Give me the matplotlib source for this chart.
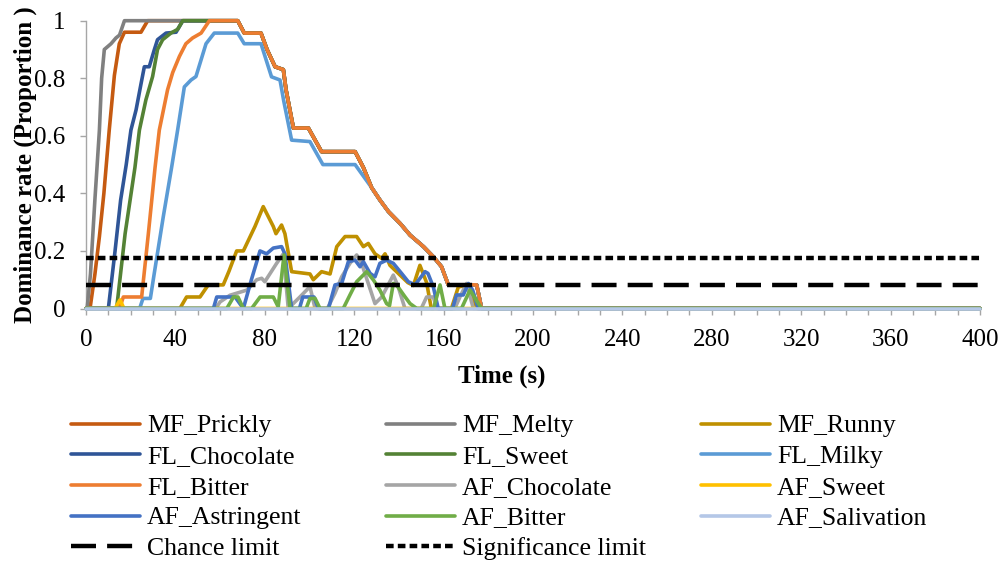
import numpy as np
import matplotlib.pyplot as plt
from matplotlib.ticker import MultipleLocator, FuncFormatter

plt.rcParams['font.family'] = ['Liberation Serif', 'DejaVu Serif']
plt.rcParams['lines.scale_dashes'] = False

# ---- data ----
TIME_RANGE = [0, 400]
CHANCE = 0.083
SIGNIF = 0.175

# common plateau/decline shared by the attributes that reach 1
decline_t = [67.9, 70.8, 78.3, 81, 84.6, 88.3, 89.5, 92.8, 99.5, 105.4, 120.4, 124.1,
             127.8, 131.5, 135.3, 140.5, 145, 151, 155.4, 159.1, 162.1, 174.8, 177, 400]
decline_v = [1.0, 0.957, 0.957, 0.9, 0.84, 0.83, 0.76, 0.627, 0.627, 0.545, 0.545, 0.49,
             0.42, 0.377, 0.337, 0.296, 0.255, 0.215, 0.18, 0.145, 0.082, 0.082, 0, 0]

prickly_t = [0, 1.8, 4, 6, 8, 10.4, 12.7, 14.9, 17.2, 24.6, 27.6]
prickly_v = [0, 0, 0.12, 0.25, 0.4, 0.62, 0.81, 0.92, 0.96, 0.96, 1.0]

melty_t = [0, 0.5, 2, 4, 6, 7, 8.2, 11.2, 13.4, 15, 17.2]
melty_v = [0, 0, 0.12, 0.38, 0.62, 0.8, 0.9, 0.92, 0.94, 0.95, 1.0]

runny_t = [0, 42, 45, 51, 54.7, 61.4, 64, 67.4, 70.4, 75.6, 79.3, 83.8, 85, 87.5, 89, 92,
           100.2, 101.7, 105.4, 109.2, 112.2, 115.9, 121.1, 124.1, 126.3, 129.3, 132.3,
           133.8, 136, 140, 144, 146.5, 149.4, 152.4, 154.5, 163.5, 166.6, 170, 173, 175, 400]
runny_v = [0, 0, 0.04, 0.04, 0.082, 0.082, 0.13, 0.2, 0.2, 0.285, 0.354, 0.285, 0.26, 0.29,
           0.26, 0.128, 0.12, 0.1, 0.128, 0.12, 0.215, 0.25, 0.25, 0.215, 0.226, 0.19, 0.174,
           0.19, 0.15, 0.12, 0.09, 0.08, 0.15, 0.09, 0, 0, 0.075, 0.08, 0.04, 0, 0]

flchoc_t = [0, 10, 13, 15.5, 18, 20.1, 22.4, 24.6, 26.1, 28.3, 30.6, 32, 35.8, 40.3, 43.3]
flchoc_v = [0, 0, 0.2, 0.377, 0.5, 0.62, 0.69, 0.78, 0.84, 0.84, 0.9, 0.934, 0.957, 0.96, 1.0]

sweet_t = [0, 13.7, 17.5, 21.9, 23.9, 26.8, 29.8, 32, 34.3, 38, 41, 43.3]
sweet_v = [0, 0, 0.26, 0.49, 0.62, 0.725, 0.806, 0.9, 0.934, 0.957, 0.97, 1.0]

milky_t = [0, 24, 25.5, 28.8, 30.5, 34.6, 38.3, 41, 44, 47, 49.2, 53.7, 57.4, 67.9, 70.8,
           78.3, 83, 86.8, 88.5, 92, 100.2, 106, 120.4, 124.1]
milky_v = [0, 0, 0.035, 0.035, 0.12, 0.32, 0.49, 0.62, 0.77, 0.794, 0.806, 0.92, 0.957,
           0.957, 0.92, 0.92, 0.805, 0.794, 0.72, 0.585, 0.58, 0.5, 0.5, 0.46]

bitter_t = [0, 15, 16.7, 24.9, 27.9, 30.9, 32.8, 36.5, 38.8, 41.8, 44.7, 47.7, 51.5, 55.2]
bitter_v = [0, 0, 0.04, 0.04, 0.26, 0.49, 0.62, 0.76, 0.82, 0.876, 0.92, 0.94, 0.957, 1.0]

afchoc_t = [0, 58, 60, 64.4, 72, 76.4, 78.6, 80, 85.3, 88.3, 90.5, 95.7, 98.7, 100.2, 102.5,
            108, 111.4, 114.4, 118.1, 121.1, 123.3, 126.3, 129.3, 132.3, 137.5, 139.5, 142.7,
            150, 152.4, 155.4, 157, 165, 167.3, 170.3, 173.3, 400]
afchoc_v = [0, 0, 0.023, 0.046, 0.064, 0.1, 0.105, 0.093, 0.157, 0.19, 0, 0.04, 0.064, 0.076,
            0, 0, 0.053, 0.11, 0.157, 0.186, 0.157, 0.087, 0.017, 0.04, 0.116, 0.08, 0,
            0, 0.04, 0.04, 0, 0, 0.04, 0.087, 0, 0]

afsweet_t = [0, 13, 15.2, 17, 400]
afsweet_v = [0, 0, 0.03, 0, 0]

astr_t = [0, 57, 58.5, 66.7, 70.4, 74, 77.85, 80.8, 83.8, 87.5, 89, 92, 95.5, 97, 102, 104,
          108.5, 111.4, 114.4, 117.4, 120.4, 122.6, 124.1, 127.1, 129.3, 131.5, 134.5, 137.5,
          141.2, 144.2, 147.2, 151.7, 153, 155.4, 157.6, 164, 165.8, 168.8, 171.1, 173, 175.5, 400]
astr_v = [0, 0, 0.04, 0.04, 0, 0.1, 0.2, 0.19, 0.21, 0.215, 0.19, 0, 0, 0.04, 0.04, 0,
          0, 0.082, 0.087, 0.163, 0.168, 0.145, 0.163, 0.122, 0.11, 0.157, 0.168, 0.157,
          0.122, 0.093, 0.082, 0.128, 0.122, 0.075, 0, 0, 0.047, 0.047, 0.087, 0.064, 0, 0]

afbitter_t = [0, 63, 66, 68, 70.4, 74.1, 77.9, 83.8, 86, 88.6, 91.3, 98.5, 100.2, 102.5, 104.7,
              115.1, 118.1, 121.1, 125.6, 128.6, 131.5, 134.5, 135.8, 137.5, 139.5, 142.7, 145,
              148, 155.5, 158.4, 160.6, 168, 171.8, 177, 400]
afbitter_v = [0, 0, 0.04, 0.04, 0, 0, 0.04, 0.04, 0.006, 0.186, 0, 0, 0.035, 0.035, 0,
              0, 0.047, 0.093, 0.128, 0.099, 0.064, 0.017, 0.01, 0.087, 0.076, 0.041, 0.017,
              0, 0, 0.082, 0, 0, 0.064, 0, 0]

saliv_t = [0, 400]
saliv_v = [0, 0]

dec_t = np.array(decline_t)
dec_v = np.array(decline_v)
tail = dec_t >= 127.8

series = [
    ('MF_Prickly', prickly_t + decline_t, prickly_v + decline_v, '#C55A11'),
    ('MF_Melty', melty_t + decline_t, melty_v + decline_v, '#808080'),
    ('MF_Runny', runny_t, runny_v, '#BF9000'),
    ('FL_Chocolate', flchoc_t + decline_t, flchoc_v + decline_v, '#2F5597'),
    ('FL_Sweet', sweet_t + decline_t, sweet_v + decline_v, '#548235'),
    ('FL_Milky', milky_t + list(dec_t[tail]), milky_v + list(dec_v[tail]), '#5B9BD5'),
    ('FL_Bitter', bitter_t + decline_t, bitter_v + decline_v, '#ED7D31'),
    ('AF_Chocolate', afchoc_t, afchoc_v, '#A5A5A5'),
    ('AF_Sweet', afsweet_t, afsweet_v, '#FFC000'),
    ('AF_Astringent', astr_t, astr_v, '#4472C4'),
    ('AF_Bitter', afbitter_t, afbitter_v, '#70AD47'),
    ('AF_Salivation', saliv_t, saliv_v, '#B4C7E7'),
]
limits = [
    ('Chance limit', CHANCE, (0, (18, 8))),
    ('Significance limit', SIGNIF, (0, (5.5, 3))),
]

W, H = 1005, 561
fig = plt.figure(figsize=(W / 100, H / 100), dpi=100)
ax = fig.add_axes([86 / W, 1 - 308.5 / H, 894 / W, 287.8 / H])

for name, t, v, c in series:
    ax.plot(t, v, color=c, lw=2.6, solid_joinstyle='round', solid_capstyle='round',
            clip_on=False, zorder=3)
for name, y, ls in limits:
    ax.plot(TIME_RANGE, [y, y], color='black', lw=3.2, linestyle=ls, zorder=4)

ax.set_xlim(0, 400)
ax.set_ylim(0, 1)
ax.xaxis.set_major_locator(MultipleLocator(40))
ax.xaxis.set_minor_locator(MultipleLocator(10))
ax.yaxis.set_major_locator(MultipleLocator(0.2))
ax.yaxis.set_major_formatter(FuncFormatter(lambda v, p: f'{v:g}'))
for s in ['top', 'right']:
    ax.spines[s].set_visible(False)
for s in ['left', 'bottom']:
    ax.spines[s].set_color('#A6A6A6')
    ax.spines[s].set_linewidth(1)
ax.tick_params(which='both', direction='out', length=4, width=1, color='#A6A6A6',
               labelsize=18, pad=11)

fig.text(25 / W, 1 - 165 / H, 'Dominance rate (Proportion )', rotation=90,
         ha='center', va='center', fontsize=18, fontweight='bold')
fig.text(502 / W, 1 - 376 / H, 'Time (s)', ha='center', va='center',
         fontsize=18, fontweight='bold')

# legend, laid out row by row like the original
lax = fig.add_axes([0, 0, 1, 1])
lax.set_xlim(0, W)
lax.set_ylim(H, 0)
lax.axis('off')
entries = [(n, c, '-') for n, t, v, c in series] + [(n, 'black', ls) for n, y, ls in limits]
col_x = [71, 386, 701]
row_y = [423.5, 454, 485, 515.5, 546]
for i, (name, c, ls) in enumerate(entries):
    x0 = col_x[i % 3]
    y0 = row_y[i // 3]
    lw = 2.6 if ls == '-' else 3.2
    lax.plot([x0, x0 + 69], [y0, y0], color=c, lw=lw, linestyle=ls,
             solid_capstyle='round')
    lax.text(x0 + 76, y0 + 8.8, name, fontsize=18.5, ha='left', va='baseline')

fig.savefig('out.png', dpi=100)
